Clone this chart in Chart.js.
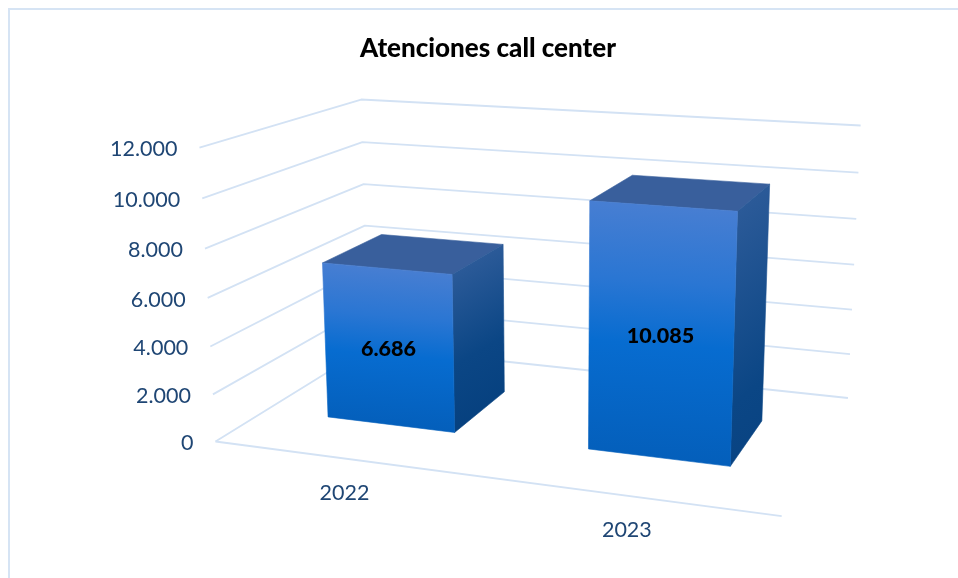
<!DOCTYPE html>
<html>
<head>
<meta charset="utf-8">
<title>Atenciones call center</title>
<script src="https://cdn.jsdelivr.net/npm/chart.js@4"></script>
<style>
  body { margin: 0; background: #fff; }
  canvas { display: block; }
</style>
</head>
<body>
<canvas id="chart" width="958" height="578"></canvas>
<script>
const years = ["2022", "2023"];
const atenciones = [6686, 10085];
const axisMax = 12000;
const axisStep = 2000;

const fontName = "Lato, 'Noto Sans', sans-serif";
const gridColor = "#d3e2f4";
const textColor = "#1f4674";
// bars stand between these two depths of the floor
const depthFront = 0.3;
const depthBack = 0.7;

// perspective of the 3d box, u = along categories, v = up the value axis, z = into the picture
function project(u, v, z) {
    let d = 1 - 0.1142 * u - 0.045 * v + 0.1966 * z;
    return {
        x: (215.5 + 476.9 * u - 25 * v + 225.4 * z) / d,
        y: (441.5 + 15.6 * u - 300.6 * v - 26.3 * z) / d
    };
}

function thousands(value) {
    return String(value).replace(/\B(?=(\d{3})+$)/g, ".");
}

function polyline(ctx, points) {
    ctx.beginPath();
    points.forEach((p, i) => {
        if (i == 0) ctx.moveTo(p.x, p.y);
        else ctx.lineTo(p.x, p.y);
    });
}

function fillFace(ctx, points, fill) {
    polyline(ctx, points);
    ctx.closePath();
    ctx.fillStyle = fill;
    ctx.fill();
    // same colour edge, hides the seam between faces
    ctx.strokeStyle = fill;
    ctx.lineWidth = 0.6;
    ctx.stroke();
}

// vertical gradient over a face, tilted so it follows the face's top edge
function faceGradient(ctx, a, b, c, d, stops) {
    let topX = (a.x + b.x) / 2, topY = (a.y + b.y) / 2;
    let botY = (c.y + d.y) / 2;
    let slope = (b.y - a.y) / (b.x - a.x);
    let h = botY - topY;
    let g = ctx.createLinearGradient(topX, topY, topX - slope * h, topY + h);
    stops.forEach(s => g.addColorStop(s[0], s[1]));
    return g;
}

const box3d = {
    id: "box3d",
    beforeDraw(chart) {
        let ctx = chart.ctx;
        ctx.save();
        ctx.strokeStyle = "#d6e4f4";
        ctx.lineWidth = 2;
        ctx.strokeRect(9, 9, 1200, 900);
        ctx.restore();
    },
    beforeDatasetsDraw(chart) {
        let ctx = chart.ctx;
        let area = chart.chartArea;
        let yScale = chart.scales.y;
        let xScale = chart.scales.x;
        let toU = px => (px - area.left) / area.width;
        let toV = py => (area.bottom - py) / area.height;

        ctx.save();
        ctx.strokeStyle = gridColor;
        ctx.lineWidth = 1.8;
        ctx.lineJoin = "round";

        // walls and floor
        yScale.ticks.forEach(t => {
            let v = toV(yScale.getPixelForValue(t.value));
            polyline(ctx, [project(0, v, 0), project(0, v, 1), project(1, v, 1)]);
            ctx.stroke();
        });
        polyline(ctx, [project(0, 0, 0), project(1, 0, 0)]);
        ctx.stroke();

        // axis labels
        ctx.fillStyle = textColor;
        ctx.font = "21.5px " + fontName;
        ctx.textBaseline = "middle";
        ctx.textAlign = "right";
        yScale.ticks.forEach(t => {
            let v = toV(yScale.getPixelForValue(t.value));
            let p = project(0, v, 0);
            ctx.fillText(t.label, p.x - 22, p.y + 2);
        });
        ctx.textAlign = "center";
        xScale.ticks.forEach((t, i) => {
            let p = project(toU(xScale.getPixelForTick(i)), 0, 0);
            ctx.fillText(t.label, p.x, p.y + 34.5);
        });

        // bars
        chart.getDatasetMeta(0).data.forEach((bar, i) => {
            let u0 = toU(bar.x - bar.width / 2);
            let u1 = toU(bar.x + bar.width / 2);
            let v0 = toV(bar.base);
            let v1 = toV(bar.y);

            let fbl = project(u0, v0, depthFront), fbr = project(u1, v0, depthFront);
            let ftl = project(u0, v1, depthFront), ftr = project(u1, v1, depthFront);
            let bbr = project(u1, v0, depthBack);
            let btl = project(u0, v1, depthBack), btr = project(u1, v1, depthBack);

            fillFace(ctx, [ftl, btl, btr, ftr], "#395f9c");
            fillFace(ctx, [ftr, btr, bbr, fbr], faceGradient(ctx, ftr, btr, bbr, fbr, [
                [0, "#2b5a98"], [0.45, "#0b4685"], [1, "#033d7b"]
            ]));
            fillFace(ctx, [ftl, ftr, fbr, fbl], faceGradient(ctx, ftl, ftr, fbr, fbl, [
                [0, "#477ed2"], [0.3, "#2a76d3"], [0.55, "#076cd0"], [1, "#045fbb"]
            ]));

            let mid = project((u0 + u1) / 2, (v0 + v1) / 2, depthFront);
            ctx.fillStyle = "#000";
            ctx.font = "900 21.5px " + fontName;
            ctx.textAlign = "center";
            ctx.fillText(thousands(atenciones[i]), mid.x, mid.y + 1.5);
        });

        ctx.restore();
        return false; // the flat bars are replaced by the boxes above
    }
};

new Chart(document.getElementById("chart"), {
    type: "bar",
    data: {
        labels: years,
        datasets: [{
            label: "Atenciones",
            data: atenciones,
            categoryPercentage: 0.5,
            barPercentage: 1
        }]
    },
    options: {
        responsive: false,
        animation: false,
        layout: { padding: { left: 18, top: 23 } },
        plugins: {
            legend: { display: false },
            tooltip: { enabled: false },
            title: {
                display: true,
                text: "Atenciones call center",
                color: "#000",
                font: { family: fontName, size: 26, weight: "900" },
                padding: { top: 10, bottom: 10 }
            }
        },
        scales: {
            x: {
                grid: { display: false },
                border: { display: false },
                ticks: { display: false }
            },
            y: {
                min: 0,
                max: axisMax,
                grid: { display: false },
                border: { display: false },
                ticks: { display: false, stepSize: axisStep, callback: v => thousands(v) }
            }
        }
    },
    plugins: [box3d]
});
</script>
</body>
</html>
